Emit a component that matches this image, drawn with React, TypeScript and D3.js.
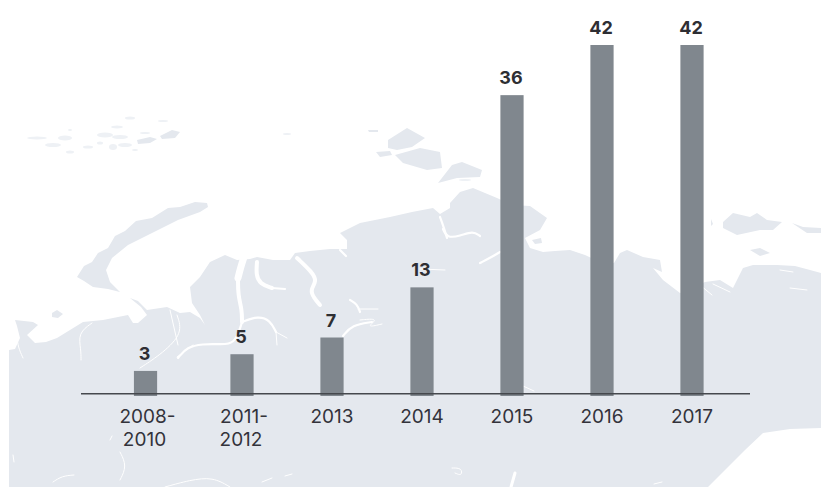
import React from "react";
import * as d3 from "d3";

const categories = [["2008-", "2010"], ["2011-", "2012"], ["2013"], ["2014"], ["2015"], ["2016"], ["2017"]];
const values = [3, 5, 7, 13, 36, 42, 42];
// horizontal slots: the first category sits slightly further away in the source
const slots = [-0.072, 1, 2, 3, 4, 5, 6];

type P = [number, number];
const mainland: P[] = [
  [9, 487], [9, 350], [15, 349], [20, 338], [17, 326], [15, 320], [33, 322], [38, 325], [27, 335], [35, 343], [46, 342], [57, 338], [70, 330], [83, 322], [103, 320], [128, 315], [133, 323], [138, 323], [147, 315], [141, 307], [130, 298], [138, 301], [147, 310], [167, 307], [180, 313], [190, 312], [200, 318], [205, 325], [200, 315], [192, 303], [190, 287], [200, 277], [210, 262], [225, 255], [237, 260], [250, 259], [257, 257], [273, 260], [290, 260], [295, 253], [310, 251], [330, 249], [347, 249], [347, 240], [340, 233], [360, 223], [390, 217], [412, 212], [433, 208], [440, 214], [450, 208], [450, 203], [460, 192], [473, 188], [497, 198], [512, 205], [530, 206], [547, 218], [540, 230], [525, 238], [530, 248], [543, 252], [555, 251], [570, 250], [585, 255], [600, 262], [614, 263], [620, 253], [627, 250], [643, 257], [660, 260], [662, 272], [653, 268], [663, 280], [680, 293], [705, 282], [720, 280], [733, 288], [743, 268], [753, 265], [777, 265], [795, 266], [810, 270], [821, 273], [821, 428], [790, 429], [763, 433], [745, 450], [725, 470], [708, 487]
];
const novayaZemlya: P[] = [
  [207, 203], [195, 202], [180, 207], [168, 208], [152, 218], [136, 221], [125, 231], [115, 236], [108, 248], [98, 253], [92, 262], [84, 266], [77, 277], [84, 281], [93, 287], [108, 289], [120, 292], [110, 282], [106, 270], [112, 258], [128, 245], [150, 234], [178, 220], [200, 212], [208, 207]
];
const islands: P[][] = [
  [[388, 140], [407, 128], [425, 138], [412, 147], [397, 150], [388, 148]],
  [[395, 155], [420, 148], [440, 152], [442, 168], [427, 170], [403, 163]],
  [[376, 152], [390, 151], [392, 155], [380, 157]],
  [[368, 130], [378, 130], [378, 132], [369, 132]],
  [[438, 183], [452, 165], [462, 162], [482, 170], [480, 177], [457, 178]],
  [[723, 222], [733, 213], [750, 217], [757, 213], [767, 220], [782, 222], [773, 230], [760, 230], [737, 235], [723, 228]],
  [[792, 223], [803, 227], [821, 228], [821, 233], [807, 233]],
  [[750, 250], [760, 248], [770, 253], [760, 256]],
  [[52, 313], [57, 310], [63, 314], [58, 318], [52, 317]],
  [[137, 140], [150, 137], [157, 139], [150, 143], [138, 144]],
  [[160, 136], [172, 130], [180, 132], [175, 138], [162, 139]],
  [[532, 240], [541, 238], [542, 243], [535, 244]],
  [[711, 219], [713, 224], [711, 226]]
];
const floes: [number, number, number, number][] = [
  [37, 138, 10, 1.5], [65, 138, 7, 2.5], [53, 145, 8, 2], [70, 152, 4, 1.5], [70, 130, 2, 1], [105, 135, 8, 2.5], [117, 127, 6, 1.5], [130, 118, 5, 1.5], [120, 137, 8, 2], [88, 147, 5, 1.5], [113, 147, 4, 3], [125, 145, 7, 2], [163, 121, 5, 1], [100, 143, 3, 1.5], [135, 150, 3, 1], [145, 133, 5, 1], [287, 134, 4, 1], [465, 180, 6, 1]
];
const gulfWide: P[][] = [[[245, 254], [241, 266], [238, 278]]];
const gulfMid: P[][] = [
  [[238, 278], [238, 295], [242, 310], [242, 322]],
  [[297, 258], [312, 272], [317, 281], [310, 290], [314, 298], [320, 305]],
  [[257, 262], [256, 275], [260, 284], [272, 288]]
];
const channels: P[][] = [
  [[242, 322], [258, 316], [270, 320], [276, 332]],
  [[242, 322], [235, 345], [218, 344], [203, 344], [187, 347], [178, 358]],
  [[272, 288], [285, 289]],
  [[443, 229], [447, 238], [460, 236], [473, 231], [480, 236]],
  [[500, 252], [490, 258], [480, 263]],
  [[440, 217], [444, 228], [447, 238]],
  [[340, 250], [346, 256]],
  [[343, 336], [352, 325], [372, 322]],
  [[360, 312], [357, 304], [350, 300]]
];
const streams: P[][] = [
  [[276, 332], [277, 345]], [[276, 332], [287, 338]],
  [[177, 315], [183, 333], [163, 353], [140, 368]],
  [[177, 357], [193, 345]],
  [[92, 323], [78, 333], [81, 350], [81, 360]],
  [[17, 336], [18, 347], [23, 358]],
  [[358, 309], [378, 309]], [[360, 320], [380, 318], [365, 328], [382, 324]],
  [[170, 310], [178, 345]],
  [[420, 269], [445, 270]],
  [[780, 270], [793, 272]], [[790, 288], [807, 290]], [[700, 285], [712, 295]], [[713, 284], [730, 292]],
  [[110, 440], [112, 436]],
  [[120, 452], [127, 466], [120, 480]],
  [[53, 482], [62, 476], [74, 475]],
  [[165, 487], [190, 480], [213, 477], [230, 487]],
  [[262, 482], [272, 478]], [[285, 476], [292, 474]],
  [[452, 468], [462, 468], [462, 476], [455, 473]],
  [[523, 386], [534, 391]],
  [[654, 484], [662, 482]],
  [[13, 455], [14, 462]]
];
const gulfLow: P[][] = [[[515, 473], [511, 487]]];

const x = d3.scaleLinear().domain([1, 6]).range([242, 692]);
const y = d3.scaleLinear().domain([0, 42]).range([396, 45]);
const closed = d3.line<P>().curve(d3.curveLinearClosed);
const open = d3.line<P>().curve(d3.curveBasis);
const LAND = "#e4e8ee";
const FLOE = "#eef1f5";
const FONT = "Inter, 'Noto Sans', sans-serif";

function strokes(list: P[][], w: number) {
  return list.map((p, i) => (
    <path key={w + "-" + i} d={open(p)!} fill="none" stroke="#fff" strokeWidth={w} strokeLinecap="round" />
  ));
}

export default function App() {
  const bw = 23.2;
  return (
    <svg width={821} height={487} style={{ position: "absolute", left: 0, top: 0, background: "#fff" }}>
      <defs>
        <filter id="soft" x="-5%" y="-5%" width="110%" height="110%"><feGaussianBlur stdDeviation={0.6} /></filter>
      </defs>
      <g filter="url(#soft)">
        <path d={closed(mainland)!} fill={LAND} />
        <path d={closed(novayaZemlya)!} fill={LAND} />
        {islands.map((p, i) => <path key={i} d={closed(p)!} fill={LAND} />)}
        {floes.map((f, i) => <ellipse key={i} cx={f[0]} cy={f[1]} rx={f[2]} ry={f[3]} fill={FLOE} />)}
        {strokes(gulfWide, 7)}
        {strokes(gulfMid, 4)}
        {strokes(gulfLow, 3)}
        {strokes(channels, 2.2)}
        {strokes(streams, 1)}
      </g>
      {values.map((v, i) => (
        <rect key={i} x={x(slots[i]) - bw / 2} y={y(v)} width={bw} height={y(0) - y(v)} fill="#80878e" />
      ))}
      <line x1={81} x2={750} y1={393.7} y2={393.7} stroke="#45484d" strokeWidth={1.5} />
      {values.map((v, i) => (
        <text key={i} x={x(slots[i]) - 1} y={y(v) - 11} textAnchor="middle" fontFamily={FONT} fontWeight={700} fontSize={18} fill="#2e2e33">{v}</text>
      ))}
      {categories.map((lines, i) => (
        <text key={i} textAnchor="middle" fontFamily={FONT} fontSize={19} fill="#33333b">
          {lines.map((l, j) => (
            <tspan key={j} x={x(slots[i]) + (lines.length > 1 ? (j === 0 ? 2 : -1) : 0)} y={422.7 + j * 23.3}>{l}</tspan>
          ))}
        </text>
      ))}
    </svg>
  );
}
